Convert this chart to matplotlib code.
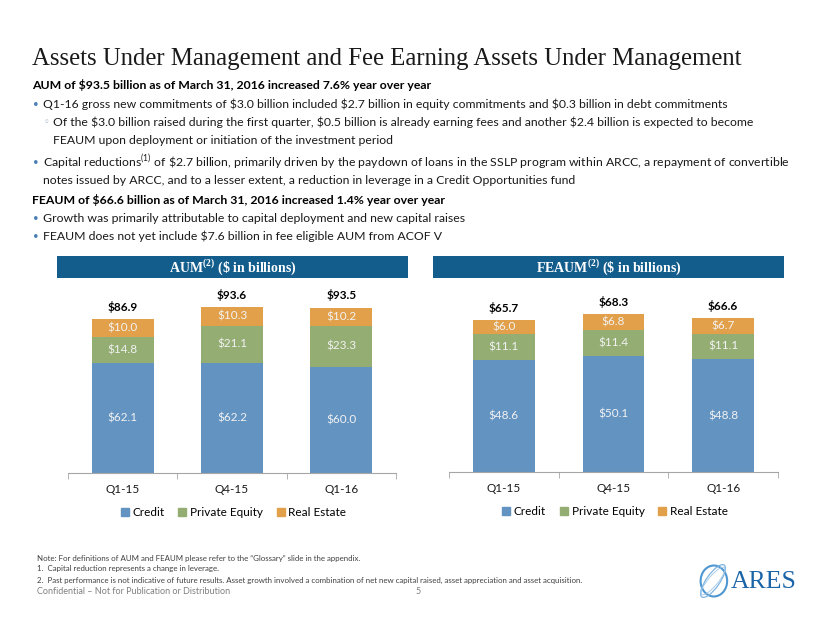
import matplotlib.pyplot as plt
from matplotlib.patches import Rectangle, Ellipse
from matplotlib.lines import Line2D
import numpy as np

plt.rcParams['font.family'] = ['Lato', 'DejaVu Sans']
plt.rcParams['mathtext.fontset'] = 'custom'
plt.rcParams['mathtext.rm'] = 'Lato'
plt.rcParams['mathtext.bf'] = 'Lato:bold'

quarters = ["Q1-15", "Q4-15", "Q1-16"]
series = ["Credit", "Private Equity", "Real Estate"]

aum_credit = [62.1, 62.2, 60.0]
aum_pe = [14.8, 21.1, 23.3]
aum_re = [10.0, 10.3, 10.2]
aum_total = [86.9, 93.6, 93.5]

feaum_credit = [48.6, 50.1, 48.8]
feaum_pe = [11.1, 11.4, 11.1]
feaum_re = [6.0, 6.8, 6.7]
feaum_total = [65.7, 68.3, 66.6]

colours = {"Credit": "#6393c1", "Private Equity": "#93ad73", "Real Estate": "#e2a04b"}
header_colour = "#135d8d"
bullet_colour = "#4a7fb5"

W, H = 830, 623
fig = plt.figure(figsize=(W / 100, H / 100), dpi=100)


def px(x, y):
    return x / W, 1 - y / H


def put(x, y, s, **kw):
    kw.setdefault('va', 'center')
    kw.setdefault('ha', 'left')
    kw.setdefault('parse_math', False)
    return fig.text(*px(x, y), s, **kw)


# title + body text
put(32, 59, "Assets Under Management and Fee Earning Assets Under Management",
    family='Liberation Serif', fontsize=17.8, color='#1a1a1a')

body = 8.8
txt = '#1a1a1a'
put(32, 85, "AUM of $93.5 billion as of March 31, 2016 increased 7.6% year over year",
    fontsize=body, fontweight='bold', color='black')
put(33, 104, "•", fontsize=7, color=bullet_colour)
put(43, 104, "Q1-16 gross new commitments of $3.0 billion included $2.7 billion in equity "
             "commitments and $0.3 billion in debt commitments", fontsize=body, color=txt)
put(44, 122, "◦", fontsize=7, color='#9aa9b8', family='DejaVu Sans')
put(53, 122, "Of the $3.0 billion raised during the first quarter, $0.5 billion is already earning "
             "fees and another $2.4 billion is expected to become", fontsize=body, color=txt)
put(53, 141, "FEAUM upon deployment or initiation of the investment period", fontsize=body, color=txt)
put(33, 162, "•", fontsize=7, color=bullet_colour)
put(43, 162, r"Capital reductions$^{(1)}$ of \$2.7 billion, primarily driven by the paydown of loans in the "
             r"SSLP program within ARCC, a repayment of convertible", fontsize=body, color=txt,
    parse_math=True)
put(43, 180, "notes issued by ARCC, and to a lesser extent, a reduction in leverage in a Credit Opportunities fund",
    fontsize=body, color=txt)
put(32, 200, "FEAUM of $66.6 billion as of March 31, 2016 increased 1.4% year over year",
    fontsize=body, fontweight='bold', color='black')
put(33, 218, "•", fontsize=7, color=bullet_colour)
put(43, 218, "Growth was primarily attributable to capital deployment and new capital raises",
    fontsize=body, color=txt)
put(33, 236, "•", fontsize=7, color=bullet_colour)
put(43, 236, "FEAUM does not yet include $7.6 billion in fee eligible AUM from ACOF V",
    fontsize=body, color=txt)


def header(x0, x1, label):
    fig.patches.append(Rectangle(px(x0, 278), (x1 - x0) / W, 22 / H, transform=fig.transFigure,
                                 facecolor=header_colour, edgecolor='none'))
    fig.text(*px((x0 + x1) / 2, 267), label, ha='center', va='center', color='white',
             fontsize=10, fontweight='bold', family='Liberation Serif')


plt.rcParams['mathtext.bf'] = 'Liberation Serif:bold'
header(57, 408, r"AUM$^{\mathbf{(2)}}$ (\$ in billions)")
header(433, 784, r"FEAUM$^{\mathbf{(2)}}$ (\$ in billions)")


def stacked(left, right, base, top, ymax, credit, pe, re, total, width):
    ax = fig.add_axes([left / W, 1 - base / H, (right - left) / W, (base - top) / H])
    x = np.arange(len(quarters))
    bottom = np.zeros(len(quarters))
    for name, vals in zip(series, [credit, pe, re]):
        vals = np.array(vals)
        ax.bar(x, vals, width, bottom=bottom, color=colours[name], label=name)
        for xi, b, v in zip(x, bottom, vals):
            ax.text(xi, b + v / 2, f"${v:.1f}", ha='center', va='center', color='#f2f2f2',
                    fontsize=8.5, parse_math=False)
        bottom = bottom + vals
    for xi, b, t in zip(x, bottom, total):
        ax.text(xi, b + ymax * 0.035, f"${t:.1f}", ha='center', va='bottom', color='black',
                fontsize=8.5, fontweight='bold', parse_math=False)
    ax.set_xlim(-0.5, len(quarters) - 0.5)
    ax.set_ylim(0, ymax)
    ax.set_xticks(x)
    ax.set_xticklabels(quarters, fontsize=8.5, color='#1a1a1a')
    ax.set_xticks(np.arange(len(quarters) + 1) - 0.5, minor=True)
    ax.tick_params(axis='x', which='major', length=0, pad=8)
    ax.tick_params(axis='x', which='minor', length=4, color='#a6a6a6')
    ax.set_yticks([])
    for s in ['left', 'right', 'top']:
        ax.spines[s].set_visible(False)
    ax.spines['bottom'].set_color('#a6a6a6')
    handles = [Line2D([], [], marker='s', linestyle='none', markersize=5.5,
                      markerfacecolor=colours[n], markeredgecolor=colours[n]) for n in series]
    ax.legend(handles, series, loc='upper center', bbox_to_anchor=(0.5, -0.16), ncol=3,
              frameon=False, fontsize=8.5, handletextpad=0.05, columnspacing=0.9,
              handlelength=1.2, borderaxespad=0)
    return ax


stacked(68, 396, 473, 290, 183 / 1.77, aum_credit, aum_pe, aum_re, aum_total, 0.57)
stacked(449, 778, 472, 290, 182 / 2.31, feaum_credit, feaum_pe, feaum_re, feaum_total, 0.56)

# footnotes
foot = dict(fontsize=5.7, color='#404040')
put(37, 558, "Note: For definitions of AUM and FEAUM please refer to the \u201cGlossary\u201d slide in the appendix.", **foot)
put(37, 569, "1.  Capital reduction represents a change in leverage.", **foot)
put(37, 580, "2.  Past performance is not indicative of future results. Asset growth involved a combination of "
             "net new capital raised, asset appreciation and asset acquisition.", **foot)
put(37, 591, "Confidential \u2013 Not for Publication or Distribution", fontsize=6.5, color='#808080')
put(416, 591, "5", fontsize=6.5, color='#808080')

# logo
lax = fig.add_axes([690 / W, 1 - 599 / H, 46 / W, 36 / H])
lax.set_xlim(-1.3, 1.3)
lax.set_ylim(-1, 1)
lax.set_aspect('equal')
lax.axis('off')
lax.add_patch(Ellipse((0.05, 0), 1.5, 1.75, angle=0, fill=False, edgecolor='#4f97d1', lw=1.5))
lax.add_patch(Ellipse((0, 0), 2.2, 0.75, angle=55, fill=False, edgecolor='#7fb4e0', lw=0.9))
lax.add_patch(Ellipse((0, 0), 2.0, 0.55, angle=50, fill=False, edgecolor='#9cc5e8', lw=0.6))
put(731, 582, "ARES", family='Liberation Serif', fontsize=18.5, color='#1a64a8')

fig.savefig("out.png", dpi=100)
